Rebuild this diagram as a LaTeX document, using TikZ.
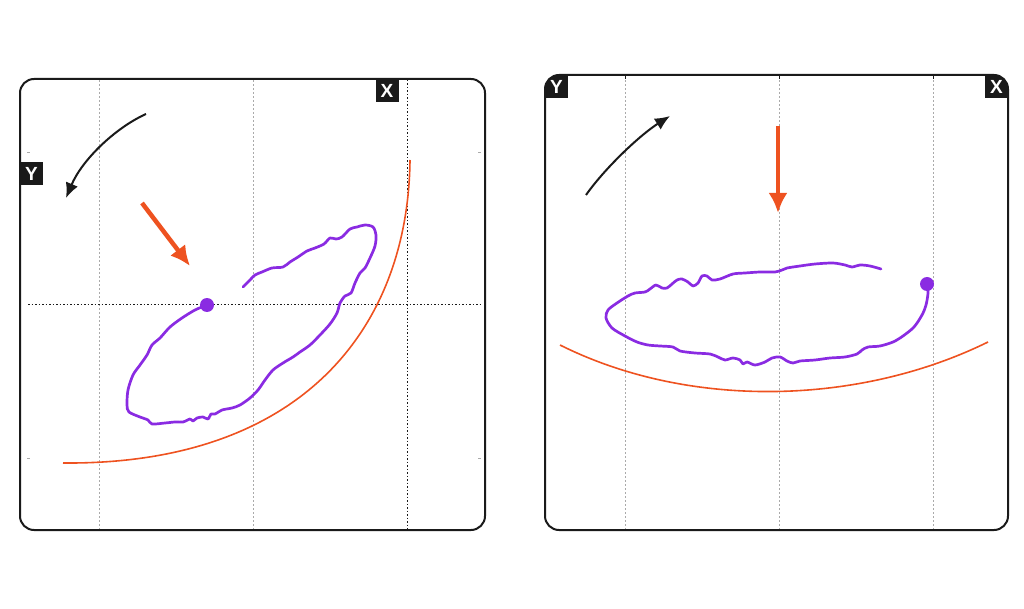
\documentclass[tikz,border=0pt]{standalone}
\usepackage{fontspec}
\setsansfont{Liberation Sans}
\usetikzlibrary{arrows.meta}
\definecolor{ink}{HTML}{1A1A1A}
\definecolor{flame}{HTML}{EE5220}
\definecolor{trail}{HTML}{8A2BE2}
\definecolor{guide}{HTML}{AAAAAA}
\tikzset{panel/.style={draw=ink,line width=2pt,rounded corners=14pt},
gridline/.style={guide,line width=1pt,dash pattern=on 2pt off 2pt},
axisline/.style={ink,line width=1pt,dash pattern=on 1.5pt off 2pt},
tag/.style={fill=ink,text=white,font=\sffamily\bfseries\fontsize{19}{19}\selectfont,minimum size=23pt,inner sep=0pt},
turn/.style={-{Latex[length=15pt,width=13pt]},line width=2pt,ink},
push/.style={-{Latex[length=20pt,width=19pt]},line width=4.5pt,flame},
rail/.style={flame,line width=1.6pt},
trace/.style={trail,line width=2.7pt,line join=round,line cap=round}}

\begin{document}
\begin{tikzpicture}[x=1pt,y=-1pt]
\useasboundingbox (0,0) rectangle (1024,609);
% left panel: tilted run
\foreach \gx in {99,253}{\draw[gridline] (\gx,80)--(\gx,529);}
\draw[axisline] (407,80)--(407,529);
\draw[axisline] (28,304)--(480,304);
\foreach \ty in {152,458}{
\draw[guide] (27,\ty)--(30,\ty);
\draw[guide] (478,\ty)--(481,\ty);}
\draw[rail] (410,160) .. controls (408,330) and (300,465) .. (63,463);
\draw[trace] plot[smooth,tension=.5] coordinates {(207,305) (195,310) (182,318) (170,327) (160,338) (152,345) (147,355) (140,365) (133,375) (128,390) (127,405) (129,412) (140,417) (148,420) (152,424) (165,423) (175,422) (183,422) (190,419) (193,421) (197,418) (203,417) (208,419) (211,414) (215,414) (222,410) (232,408) (240,405) (250,398) (258,390) (265,380) (273,370) (283,363) (293,357) (300,352) (310,345) (320,335) (330,324) (337,313) (340,303) (345,296) (351,293) (355,283) (360,273) (365,268) (370,258) (375,246) (376,235) (373,227) (365,225) (357,227) (350,229) (342,237) (336,239) (330,238) (324,244) (315,248) (307,251) (298,257) (290,262) (283,267) (272,268) (262,272) (255,275) (250,280) (243,287)};
\fill[trail] (207,305) circle (7);
\draw[turn] (146,114) .. controls (115,128) and (82,160) .. (66,198);
\draw[push] (142,203)--(190,266);
\draw[panel] (20,79) rectangle (485,530);
\node[tag] (xl) at (387,91) {X};
\node[tag] (yl) at (31.5,174) {Y};
% right panel: level run
\foreach \gx in {625,779,933}{
\draw[gridline] (\gx,76)--(\gx,529);
\draw[ink,line width=1pt] (\gx,76)--(\gx,79);}
\draw[rail] (560,345) .. controls (690,410) and (860,405) .. (988,342);
\draw[trace] plot[smooth,tension=.5] coordinates {(927,284) (928,293) (926,305) (922,315) (914,327) (903,336) (893,342) (880,346) (868,347) (862,350) (857,354) (845,357) (830,358) (815,360) (800,361) (793,363) (787,361) (780,357) (772,358) (765,362) (755,365) (747,362) (743,364) (740,360) (733,358) (725,360) (718,357) (710,354) (695,353) (680,351) (673,347) (660,346) (648,345) (637,342) (625,336) (612,328) (606,318) (608,310) (617,303) (628,296) (635,293) (645,292) (650,289) (656,285) (662,288) (667,288) (672,284) (677,280) (682,279) (688,282) (693,286) (698,283) (702,276) (707,276) (712,280) (720,279) (733,274) (745,273) (760,272) (775,272) (782,270) (787,268) (800,266) (815,264) (833,263) (845,265) (852,267) (860,265) (870,266) (881,269)};
\fill[trail] (927,284) circle (7);
\draw[turn] (586,195) .. controls (605,168) and (640,135) .. (670,116);
\draw[push] (778,126)--(778,213);
\begin{scope}
\clip[rounded corners=14pt] (545,75) rectangle (1008,530);
\node[tag] (yr) at (556.5,87) {Y};
\node[tag] (xr) at (996.5,87) {X};
\end{scope}
\draw[panel] (545,75) rectangle (1008,530);
\end{tikzpicture}
\end{document}
